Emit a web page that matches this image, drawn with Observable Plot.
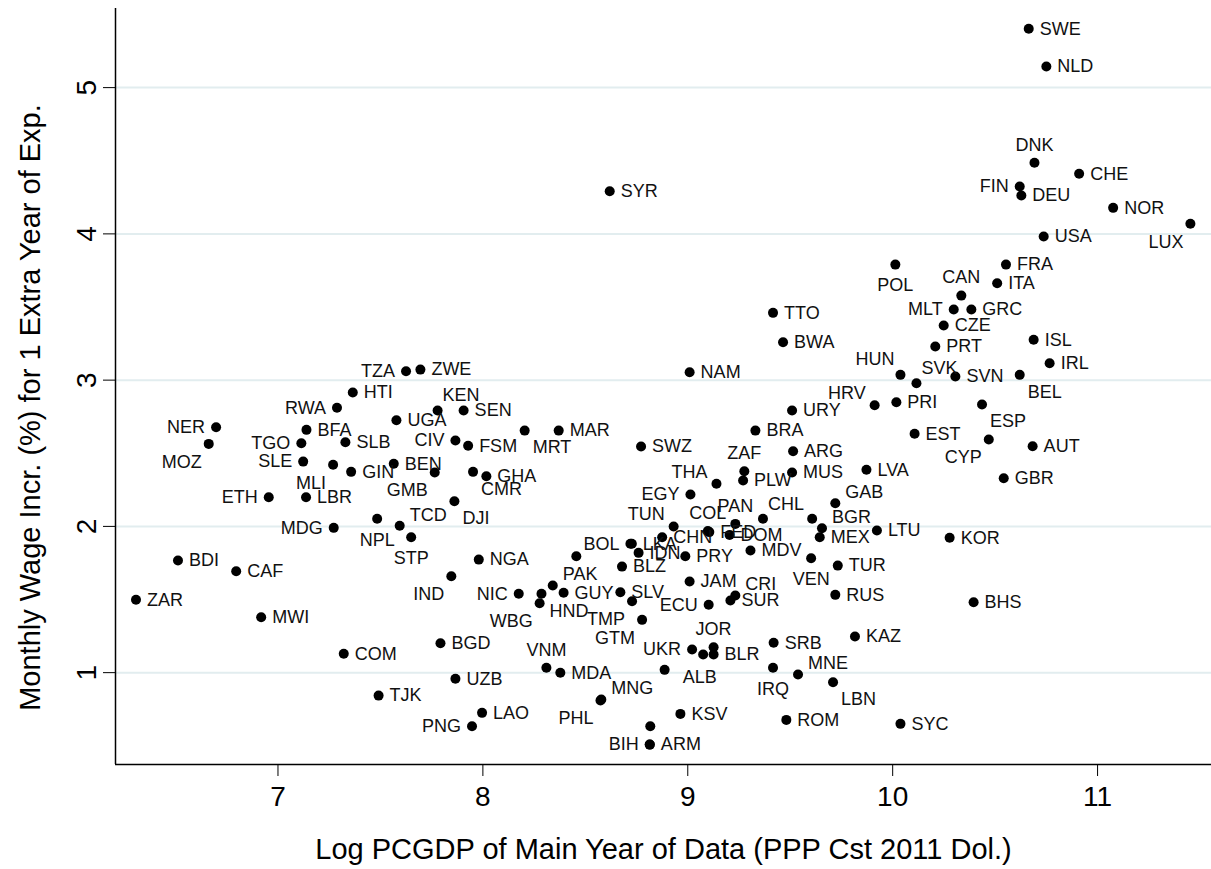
<!DOCTYPE html>
<html>
<head>
<meta charset="utf-8">
<script src="https://cdn.jsdelivr.net/npm/d3@7"></script>
<script src="https://cdn.jsdelivr.net/npm/@observablehq/plot@0.6"></script>
<style>
  html, body { margin: 0; padding: 0; background: #fff; }
  #chart svg { display: block; }
</style>
</head>
<body>
<div id="chart"></div>
<script>
// Country codes ("" = unlabeled point)
const codes = ["ZAR","BDI","CAF","MWI","MOZ","NER","ETH","TGO","SLE","BFA",
  "LBR","MLI","MDG","RWA","COM","SLB","GIN","HTI","NPL","TJK",
  "BEN","UGA","TCD","TZA","STP","ZWE","GMB","KEN","BGD","IND",
  "DJI","CIV","UZB","SEN","FSM","PNG","CMR","NGA","LAO","GHA",
  "NIC","MRT","WBG","HND","VNM","PAK","MAR","MDA","GUY","",
  "MNG","PHL","SYR","SLV","BLZ","BOL","LKA","TMP","IDN","SWZ",
  "GTM","BIH","ARM","","CHN","ALB","TUN","KSV","PRY","NAM",
  "EGY","JAM","UKR","","ECU","COL","FED","JOR","BLR","THA",
  "DOM","SUR","CRI","PAN","PLW","ZAF","MDV","BRA","CHL","TTO",
  "IRQ","SRB","BWA","ROM","URY","MUS","ARG","MNE","VEN","",
  "MEX","BGR","LBN","GAB","RUS","TUR","KAZ","LVA","HRV","LTU",
  "POL","PRI","HUN","SYC","EST","SVK","PRT","CZE","KOR","MLT",
  "SVN","CAN","GRC","BHS","ESP","CYP","ITA","GBR","FRA","FIN",
  "BEL","DEU","SWE","AUT","ISL","DNK","USA","NLD","IRL","CHE",
  "NOR","LUX"];

// Log PCGDP of main year of data (PPP, constant 2011 $)
const logGdp = [6.307,6.512,6.796,6.918,6.662,6.698,6.955,7.114,7.123,7.139,
  7.137,7.269,7.272,7.288,7.321,7.329,7.357,7.365,7.484,7.491,
  7.565,7.578,7.594,7.625,7.650,7.695,7.765,7.779,7.793,7.846,
  7.861,7.866,7.866,7.906,7.928,7.947,7.952,7.980,7.996,8.017,
  8.175,8.204,8.277,8.286,8.310,8.341,8.370,8.378,8.394,8.456,
  8.578,8.574,8.619,8.671,8.679,8.720,8.727,8.728,8.760,8.772,
  8.777,8.814,8.815,8.817,8.875,8.887,8.931,8.964,8.988,9.009,
  9.013,9.009,9.021,9.075,9.102,9.098,9.105,9.126,9.126,9.140,
  9.204,9.208,9.232,9.232,9.270,9.276,9.306,9.330,9.367,9.416,
  9.416,9.419,9.465,9.481,9.509,9.509,9.514,9.538,9.602,9.607,
  9.644,9.655,9.709,9.720,9.720,9.732,9.816,9.872,9.912,9.923,
  10.013,10.018,10.038,10.038,10.107,10.116,10.208,10.249,10.278,10.298,
  10.306,10.335,10.384,10.395,10.436,10.469,10.510,10.542,10.553,10.620,
  10.620,10.628,10.664,10.683,10.688,10.692,10.737,10.750,10.766,10.910,
  11.076,11.453];

// Monthly wage increase (%) for 1 extra year of experience
const wageIncr = [1.498,1.767,1.693,1.379,2.564,2.678,2.199,2.569,2.443,2.660,
  2.199,2.421,1.990,2.811,1.129,2.575,2.373,2.915,2.052,0.843,
  2.428,2.726,2.004,3.061,1.926,3.072,2.368,2.792,1.201,1.659,
  2.172,2.587,0.958,2.792,2.551,0.634,2.373,1.773,0.725,2.343,
  1.539,2.655,1.475,1.539,1.033,1.596,2.655,0.999,1.546,1.796,
  0.816,0.809,4.292,1.550,1.725,1.881,1.881,1.488,1.819,2.546,
  1.361,0.508,0.508,0.634,1.926,1.019,1.999,0.718,1.796,3.054,
  2.218,1.623,1.158,1.124,1.464,1.968,1.961,1.174,1.124,2.291,
  1.942,1.493,1.527,2.017,2.314,2.377,1.835,2.655,2.052,3.460,
  1.033,1.204,3.259,0.677,2.792,2.368,2.514,0.987,1.782,2.052,
  1.926,1.987,0.934,2.158,1.532,1.732,1.247,2.387,2.828,1.972,
  3.790,2.849,3.036,0.650,2.633,2.979,3.230,3.373,1.922,3.483,
  3.025,3.578,3.483,1.481,2.833,2.594,3.663,2.329,3.790,4.324,
  3.036,4.262,5.402,2.548,3.276,4.486,3.982,5.144,3.116,4.411,
  4.178,4.069];

// Marker label clock positions (0 = no label)
const labelPos = [3,3,3,3,7,9,9,9,9,3,
  3,7,9,9,3,3,3,3,6,3,
  3,3,2,9,6,3,7,1,3,7,
  5,9,3,3,3,9,5,3,3,3,
  9,5,7,5,12,2,3,3,3,0,
  2,7,3,3,3,9,3,7,3,3,
  7,9,3,0,3,4,10,3,3,3,
  9,3,9,0,9,12,3,12,3,10,
  3,3,2,12,3,12,3,3,1,3,
  6,3,3,3,3,3,3,2,6,0,
  3,2,5,2,3,3,3,3,10,3,
  6,3,11,3,3,1,3,3,3,9,
  3,12,3,3,5,7,3,3,3,9,
  5,3,3,3,3,12,3,3,3,3,
  3,7];

const xTicks = [7, 8, 9, 10, 11];
const yTicks = [1, 2, 3, 4, 5];
const xTitle = "Log PCGDP of Main Year of Data (PPP Cst 2011 Dol.)";
const yTitle = "Monthly Wage Incr. (%) for 1 Extra Year of Exp.";

const data = codes.map((c, i) => ({code: c, x: logGdp[i], y: wageIncr[i], pos: labelPos[i]}));

const xDomain = [6.207, 11.556];
const yDomain = [0.372, 5.541];
const FONT = "'Liberation Sans', Arial, Helvetica, sans-serif";

// label offsets by clock position (style)
const offsets = {
  1: {dx: 5, dy: -15, anchor: "start"},
  2: {dx: 10, dy: -11, anchor: "start"},
  3: {dx: 11, dy: 0, anchor: "start"},
  4: {dx: 18, dy: 7, anchor: "start"},
  5: {dx: 8, dy: 17, anchor: "start"},
  6: {dx: 0, dy: 21, anchor: "middle"},
  7: {dx: -7, dy: 18, anchor: "end"},
  9: {dx: -11, dy: 0, anchor: "end"},
  10: {dx: -9, dy: -12, anchor: "end"},
  11: {dx: -6, dy: -16, anchor: "end"},
  12: {dx: 0, dy: -18, anchor: "middle"}
};

const labelMarks = Object.entries(offsets).map(([p, o]) =>
  Plot.text(data.filter(d => d.pos === +p && d.code), {
    x: "x", y: "y", text: "code",
    dx: o.dx, dy: o.dy, textAnchor: o.anchor,
    fontSize: 18, fill: "#111", fontFamily: FONT
  })
);

const chart = Plot.plot({
  width: 1211,
  height: 869,
  marginLeft: 115,
  marginRight: 0,
  marginTop: 8,
  marginBottom: 105,
  style: {fontFamily: FONT, background: "#fff", color: "#000"},
  x: {domain: xDomain},
  y: {domain: yDomain},
  marks: [
    Plot.ruleY(yTicks, {stroke: "#e2edef", strokeWidth: 2}),
    Plot.ruleY([yDomain[0]], {stroke: "#000", strokeWidth: 1.5}),
    Plot.ruleX([xDomain[0]], {stroke: "#000", strokeWidth: 1.5}),
    Plot.axisX({ticks: xTicks, tickSize: 12, tickPadding: 10, fontSize: 28, tickFormat: d => String(d), label: null, stroke: "#000"}),
    Plot.axisY({ticks: yTicks, tickSize: 12, tickFormat: () => "", label: null, stroke: "#000"}),
    Plot.text(yTicks, {y: d => d, frameAnchor: "left", dx: -28, rotate: -90, text: d => String(d), fontSize: 28, textAnchor: "middle", lineAnchor: "middle", fill: "#000"}),
    Plot.text([xTitle], {frameAnchor: "bottom", dy: 85, text: d => d, fontSize: 29, textAnchor: "middle", lineAnchor: "middle", fill: "#000"}),
    Plot.text([yTitle], {frameAnchor: "left", dx: -85, dy: 21, rotate: -90, text: d => d, fontSize: 29, textAnchor: "middle", lineAnchor: "middle", fill: "#000"}),
    Plot.dot(data, {x: "x", y: "y", r: 5, fill: "#000", stroke: null}),
    ...labelMarks
  ]
});

document.getElementById("chart").appendChild(chart);
</script>
</body>
</html>
